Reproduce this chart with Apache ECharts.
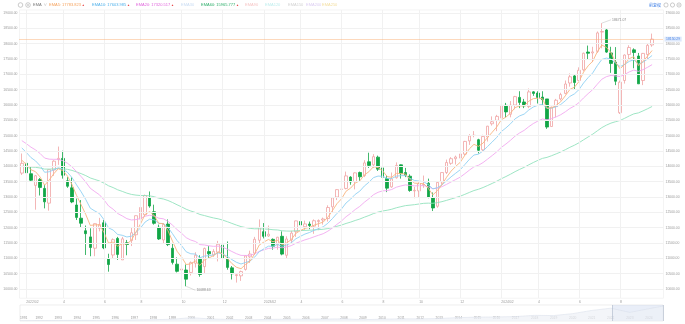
<!DOCTYPE html>
<html><head><meta charset="utf-8">
<script src="https://cdn.jsdelivr.net/npm/echarts@6/dist/echarts.min.js"></script>
<style>html,body{margin:0;padding:0;background:#fff}#c{width:685px;height:324px}</style>
</head><body><div id="c"></div>
<script>
// ---- weekly dates (Monday of each week) ----
const dates = [
'2022-01-31','2022-02-07','2022-02-14','2022-02-21','2022-02-28','2022-03-07','2022-03-14','2022-03-21','2022-03-28','2022-04-04',
'2022-04-11','2022-04-18','2022-04-25','2022-05-02','2022-05-09','2022-05-16','2022-05-23','2022-05-30','2022-06-06','2022-06-13',
'2022-06-20','2022-06-27','2022-07-04','2022-07-11','2022-07-18','2022-07-25','2022-08-01','2022-08-08','2022-08-15','2022-08-22',
'2022-08-29','2022-09-05','2022-09-12','2022-09-19','2022-09-26','2022-10-03','2022-10-10','2022-10-17','2022-10-24','2022-10-31',
'2022-11-07','2022-11-14','2022-11-21','2022-11-28','2022-12-05','2022-12-12','2022-12-19','2022-12-26','2023-01-02','2023-01-09',
'2023-01-16','2023-01-23','2023-01-30','2023-02-06','2023-02-13','2023-02-20','2023-02-27','2023-03-06','2023-03-13','2023-03-20',
'2023-03-27','2023-04-03','2023-04-10','2023-04-17','2023-04-24','2023-05-01','2023-05-08','2023-05-15','2023-05-22','2023-05-29',
'2023-06-05','2023-06-12','2023-06-19','2023-06-26','2023-07-03','2023-07-10','2023-07-17','2023-07-24','2023-07-31','2023-08-07',
'2023-08-14','2023-08-21','2023-08-28','2023-09-04','2023-09-11','2023-09-18','2023-09-25','2023-10-02','2023-10-09','2023-10-16',
'2023-10-23','2023-10-30','2023-11-06','2023-11-13','2023-11-20','2023-11-27','2023-12-04','2023-12-11','2023-12-18','2023-12-25',
'2024-01-01','2024-01-08','2024-01-15','2024-01-22','2024-01-29','2024-02-05','2024-02-12','2024-02-19','2024-02-26','2024-03-04',
'2024-03-11','2024-03-18','2024-03-25','2024-04-01','2024-04-08','2024-04-15','2024-04-22','2024-04-29','2024-05-06','2024-05-13',
'2024-05-20','2024-05-27','2024-06-03','2024-06-10','2024-06-17','2024-06-24','2024-07-01','2024-07-08','2024-07-15','2024-07-22',
'2024-07-29','2024-08-05','2024-08-12','2024-08-19','2024-08-26','2024-09-02','2024-09-09','2024-09-16','2024-09-23'];

const opens = [13780,14100,13760,13380,13570,13280,12800,13880,14220,14260,13530,13300,12740,12310,11900,11700,11330,11980,12160,10980,
11110,11650,10950,11510,11580,11770,12280,12420,12980,12520,12010,11600,12120,11330,10810,10620,10620,10540,10840,11000,
10730,11220,11110,11200,11430,10980,10690,10440,10430,10640,11050,11170,11590,11870,11730,11620,11450,11720,11100,11600,
11870,12200,12030,12120,12050,12200,12250,12300,12680,13000,13250,13280,13650,13500,13800,13700,14150,14050,14300,13950,
13600,13330,13630,14050,13800,13680,13200,13200,13400,13450,12980,12700,13500,13800,14100,14250,14270,14400,14830,15010,
14870,14540,14960,15390,15500,15580,15990,15700,16000,16250,16100,15950,16430,16390,16260,16200,15300,15950,16200,16380,
16720,16950,16800,17150,17730,17700,17750,18380,18450,17700,17400,15750,16800,17650,17800,17600,16800,17650,17960];
const closes = [14098,13791,13548,13694,13313,12843,13893,14169,14261,13711,13351,12839,12335,12145,11805,11354,12131,12100,11340,10798,
11608,11128,11636,11452,11834,12391,12658,13048,12706,12142,11631,12112,11448,10868,10576,10652,10321,10860,11102,10475,
11323,11146,11226,11461,11005,10705,10498,10466,10569,11079,11140,11622,12007,11718,11787,11395,11689,11138,11631,11824,
12222,12088,12123,12072,12227,12235,12284,12658,12975,13241,13259,13689,13492,13788,13660,14113,14032,14316,13909,13645,
13290,13590,14031,13761,13708,13212,13219,13431,13407,12984,12643,13478,13798,14125,14250,14305,14404,14814,14993,15011,
14524,14973,15311,15455,15629,15991,15776,15997,16275,16085,15973,16429,16379,16249,16175,15282,15928,16156,16341,16686,
16921,16735,17133,17689,17689,17733,18353,18398,17727,17358,16776,16745,17631,17877,17714,16691,17684,17948,18150.29];
const lows = [13720,13760,13500,12587,13050,12630,12555,13690,14050,13600,13300,12800,12250,12010,11110,11068,11070,11880,11300,10565,
11000,10950,10950,11100,11400,11600,12200,12400,12650,12100,11600,11500,11400,10800,10540,10530,10088.63,10440,10700,10400,
10500,11000,11050,10900,10950,10630,10310,10210,10265,10600,10850,11120,11500,11650,11700,11280,11280,11100,10990,11500,
11700,11950,11930,11950,11800,11920,12100,12200,12500,12900,13100,13250,13400,13250,13500,13650,13950,13950,13850,13500,
13160,13300,13600,13600,13650,13170,12960,13000,13300,12960,12543,12650,13400,13750,14050,14060,14060,14350,14700,14950,
14420,14480,14810,15330,15150,15500,15600,15600,15860,15900,15900,15900,16300,16050,16000,15223,15300,15600,16150,16350,
16600,16500,16800,17100,17500,17400,17700,17850,17700,17050,16650,15708,16700,17500,17200,16690,16650,17500,17900];
const highs = [14420,14300,13990,13720,13620,13400,13900,14200,14646,14510,13650,13640,12950,12900,12070,11980,12140,12320,12250,11150,
11650,11700,11700,11600,11990,12400,12700,13080,13181,12750,12100,12150,12270,11500,11030,11080,10800,10900,11200,11100,
11350,11400,11300,11570,11480,11550,10750,10500,10600,11100,11250,11700,12269,12150,12070,11650,11700,11880,11720,11900,
12230,12270,12230,12200,12270,12270,12330,12730,13000,13250,13400,13829,13680,13800,13830,14200,14446,14400,14350,14000,
13700,13800,14130,14060,13950,13740,13330,13480,13700,13600,13150,13500,13800,14220,14300,14350,14430,14830,15050,15150,
14900,15030,15320,15630,15680,16000,16070,16130,16300,16450,16200,16540,16450,16450,16450,16200,15950,16200,16400,16800,
17030,17000,17230,17710,17940,17900,18400,18671.07,18500,17900,17890,16800,17650,17950,17850,17700,17700,18020,18330];

const ema5 = [14200,14064,13892,13826,13655,13384,13554,13759,13926,13854,13686,13404,13048,12747,12433,12073,12092,12095,11843,11495,
11533,11398,11477,11469,11591,11858,12125,12433,12524,12397,12142,12132,11904,11559,11231,11038,10799,10819,10913,10767,
10952,11017,11087,11212,11143,10997,10831,10709,10662,10801,10914,11150,11436,11530,11616,11542,11591,11440,11504,11611,
11815,11906,11978,12009,12082,12133,12183,12341,12552,12782,12941,13190,13291,13457,13525,13721,13825,13989,13962,13856,
13667,13641,13771,13768,13748,13569,13452,13445,13432,13283,13070,13206,13403,13644,13846,13999,14134,14361,14572,14718,
14653,14760,14944,15114,15286,15521,15606,15736,15916,15972,15972,16124,16209,16222,16206,15898,15908,15991,16108,16301,
16508,16584,16767,17074,17279,17430,17738,17958,17881,17707,17397,17180,17330,17512,17579,17283,17417,17594,17779];
const ema10 = [14600,14453,14288,14180,14022,13808,13823,13886,13954,13910,13808,13632,13396,13169,12921,12636,12544,12463,12259,11993,
11923,11778,11752,11697,11722,11844,11992,12184,12279,12254,12141,12136,12011,11803,11580,11411,11213,11149,11140,11019,
11074,11087,11112,11175,11144,11064,10961,10871,10816,10864,10914,11043,11218,11309,11396,11396,11449,11392,11435,11506,
11636,11718,11792,11843,11913,11972,12029,12143,12294,12466,12610,12806,12931,13087,13191,13359,13481,13633,13683,13676,
13606,13603,13681,13696,13698,13610,13539,13519,13499,13405,13266,13305,13395,13528,13659,13776,13890,14058,14228,14370,
14398,14503,14650,14796,14947,15137,15253,15388,15549,15646,15705,15837,15936,15993,16026,15891,15898,15945,16017,16139,
16281,16364,16504,16719,16895,17047,17284,17487,17531,17500,17368,17255,17323,17424,17477,17334,17398,17498,17617];
const ema20 = [14840,14740,14627,14538,14421,14271,14235,14229,14232,14182,14103,13983,13826,13666,13489,13286,13176,13074,12909,12708,
12603,12463,12384,12295,12251,12264,12302,12373,12405,12380,12309,12290,12210,12082,11939,11816,11674,11597,11550,11448,
11436,11408,11391,11398,11361,11299,11223,11151,11096,11094,11098,11148,11230,11276,11325,11332,11366,11344,11371,11414,
11491,11548,11603,11648,11703,11754,11804,11885,11989,12108,12218,12358,12466,12592,12694,12829,12944,13075,13154,13201,
13209,13245,13320,13362,13395,13378,13363,13369,13373,13336,13270,13290,13338,13413,13493,13570,13649,13760,13877,13985,
14036,14125,14238,14354,14475,14619,14729,14850,14986,15091,15175,15294,15397,15478,15544,15519,15558,15615,15684,15779,
15888,15969,16080,16233,16372,16502,16678,16842,16926,16967,16949,16930,16997,17081,17141,17098,17154,17230,17318];
const ema60 = [14000,13993,13978,13969,13947,13911,13910,13918,13929,13922,13903,13868,13818,13763,13699,13622,13573,13525,13453,13366,
13308,13236,13184,13127,13085,13062,13049,13049,13038,13009,12964,12936,12887,12821,12747,12678,12601,12544,12497,12431,
12395,12354,12317,12289,12247,12196,12140,12085,12035,12004,11976,11964,11965,11957,11951,11933,11925,11899,11890,11888,
11899,11905,11912,11917,11927,11937,11948,11971,12004,12045,12085,12138,12182,12235,12282,12342,12397,12460,12508,12545,
12569,12602,12649,12685,12719,12735,12751,12773,12794,12800,12795,12817,12849,12891,12936,12981,13028,13087,13150,13211,
13254,13310,13376,13444,13516,13597,13668,13744,13827,13901,13969,14050,14126,14196,14261,14294,14348,14407,14470,14543,
14621,14690,14770,14866,14959,15050,15158,15264,15345,15411,15456,15498,15568,15644,15712,15744,15808,15878,15953];

// legend read-outs
const legendItems = [
  {name:'EMA5',  value:'17783.823', color:'#f5a25d'},
  {name:'EMA10', value:'17603.985', color:'#4fb0ea'},
  {name:'EMA20', value:'17320.517', color:'#e066dc'},
  {name:'EMA30', value:null,        color:'#c9dcf3'},
  {name:'EMA60', value:'15965.777', color:'#2fae6b'},
  {name:'EMA90', value:null,        color:'#f6c6c6'},
  {name:'EMA120',value:null,        color:'#bfeeee'},
  {name:'EMA150',value:null,        color:'#d2d2d2'},
  {name:'EMA200',value:null,        color:'#dccdf2'},
  {name:'EMA250',value:null,        color:'#f3dea0'}
];
const legendX = [49, 92, 136, 181, 201, 245, 265, 288, 306, 322];

// y-axis gridline values
const yTicks = [10000,10500,11000,11500,12000,12500,13000,13500,14000,14500,15000,15500,16000,16500,17000,17500,18000,18500,19000];

// overview slider (yearly level of the full history)
const sliderX = [1991,1992,1993,1994,1995,1996,1997,1998,1999,2000,2001,2002,2003,2004,2005,2006,2007,2008,2009,2010,
  2011,2012,2013,2014,2015,2016,2017,2018,2019,2020,2021,2022,2023,2024,2024.74];
const sliderY = [374,586,677,777,752,1052,1291,1570,2193,4069,2470,1950,1335,2003,2175,2205,2415,2652,1577,2269,
  2652,2605,3020,4177,4736,5007,5383,6903,6635,8973,12888,15645,10466,15011,18150];
const windowStart = 2022.08, windowEnd = 2024.74;

// ---------------------------------------------------------------
const FONT = 'Liberation Sans, Noto Sans CJK SC, sans-serif';
const cats = dates.concat(['pad1','pad2']);
const candle = dates.map((d,i)=>[opens[i], closes[i], lows[i], highs[i]]);
const tickIdx = [];
dates.forEach((d,i)=>{const m=+d.slice(5,7), day=+d.slice(8,10); if(m%2===0 && day<=7) tickIdx.push(i);});
const tickSet = new Set(tickIdx);
function xLabel(i){const d=dates[i]; if(!d) return ''; const m=d.slice(5,7); return m==='02' ? d.slice(0,4)+'/02' : String(+m);}

let maxIdx=0, minIdx=0;
highs.forEach((h,i)=>{ if(h>highs[maxIdx]) maxIdx=i; });
lows.forEach((l,i)=>{ if(l<lows[minIdx]) minIdx=i; });
const lastClose = closes[closes.length-1];

const gridColor = '#f1f1f1';
const gridLines = yTicks.map(v=>({yAxis:v, lineStyle:{color:gridColor, width:1, type:'solid'}, label:{show:false}}))
  .concat(tickIdx.map(i=>({xAxis:i, lineStyle:{color:gridColor, width:1, type:'solid'}, label:{show:false}})));

const chart = echarts.init(document.getElementById('c'), null, {renderer:'canvas'});

const lineSeries = (name, data, color) => ({
  type:'line', name, data, xAxisIndex:0, yAxisIndex:0, symbol:'none', smooth:false,
  color, lineStyle:{color, width:0.9}, z:3, silent:true
});

const headerGraphics = [];
headerGraphics.push({type:'circle', shape:{cx:20.5, cy:5, r:2.3}, style:{fill:'none', stroke:'#aaa', lineWidth:0.6}});
headerGraphics.push({type:'circle', shape:{cx:28, cy:5, r:2.3}, style:{fill:'none', stroke:'#aaa', lineWidth:0.6}});
headerGraphics.push({type:'circle', shape:{cx:28, cy:5, r:0.8}, style:{fill:'#aaa'}});
headerGraphics.push({type:'text', x:33, y:5, style:{text:'EMA', fill:'#777', font:'4px '+FONT, verticalAlign:'middle'}});
headerGraphics.push({type:'text', x:43.5, y:5, style:{text:'∨', fill:'#aaa', font:'3.5px '+FONT, verticalAlign:'middle'}});
legendItems.forEach((it,k)=>{
  const txt = it.value ? '{a|'+it.name+': '+it.value+'}{b| ▲}' : '{a|'+it.name+'}';
  headerGraphics.push({type:'text', x:legendX[k], y:5, style:{text:txt, verticalAlign:'middle',
    rich:{a:{fill:it.color, fontSize:4, fontFamily:FONT}, b:{fill:'#e8484a', fontSize:3, fontFamily:FONT}}}});
});
headerGraphics.push({type:'text', x:649, y:5, style:{text:'前复权', fill:'#3f7fe6', font:'4px Noto Sans CJK SC', verticalAlign:'middle'}});
headerGraphics.push({type:'circle', shape:{cx:666, cy:5, r:2.1}, style:{fill:'none', stroke:'#aaa', lineWidth:0.6}});
headerGraphics.push({type:'circle', shape:{cx:672.5, cy:5, r:2.1}, style:{fill:'none', stroke:'#aaa', lineWidth:0.6}});
headerGraphics.push({type:'circle', shape:{cx:679, cy:5, r:2.1}, style:{fill:'none', stroke:'#aaa', lineWidth:0.6}});
headerGraphics.push({type:'line', shape:{x1:677.8, y1:5, x2:680.2, y2:5}, style:{stroke:'#aaa', lineWidth:0.6}});

// current-price line: a dedicated line series carrying only the markLine
const priceColor = '#fbb27a';
const priceSeries = {type:'line', name:'price', data:[], xAxisIndex:0, yAxisIndex:0, symbol:'none', silent:true, z:4,
  color:priceColor, lineStyle:{color:priceColor},
  markLine:{symbol:['none','none'], silent:true, animation:false, precision:2,
    lineStyle:{color:priceColor, width:1, type:[1,1], opacity:1},
    emphasis:{disabled:true},
    label:{show:true, position:'end', distance:1, formatter:lastClose.toFixed(2), fontSize:3.4, color:'#4b86e6',
           backgroundColor:'#dde8fb', padding:[1,1.5,0.5,1.5]},
    data:[{yAxis:lastClose, lineStyle:{color:priceColor, width:1, type:[1,1]}}]}};

const option = {
  animation:false,
  textStyle:{fontFamily:FONT},
  grid:[
    {left:19.5, right:21.5, top:10, bottom:25.8, show:true, borderColor:'#ececec', borderWidth:0.6, backgroundColor:'transparent'},
    {left:20, right:22, top:305, height:16, show:true, borderColor:'#e2e2e2', borderWidth:0.6}
  ],
  xAxis:[
    {type:'category', gridIndex:0, data:cats, boundaryGap:true,
     axisLine:{show:false}, axisTick:{show:false}, splitLine:{show:false},
     axisLabel:{fontSize:3.4, color:'#999', margin:2.5, align:'left', interval:(i)=>tickSet.has(i), formatter:(v,i)=>xLabel(i)}},
    {type:'value', gridIndex:1, min:sliderX[0], max:sliderX[sliderX.length-1], interval:1,
     axisLine:{show:false}, axisTick:{show:false}, splitLine:{show:false},
     axisLabel:{inside:true, fontSize:3.3, color:'#999', margin:1.5, alignMinLabel:'left',
       formatter:(v)=> Number.isInteger(v) ? String(v) : ''}}
  ],
  yAxis:[
    {type:'value', gridIndex:0, position:'left', min:9700, max:19100, interval:50, scale:true,
     axisLine:{show:false}, axisTick:{show:false}, splitLine:{show:false},
     axisLabel:{fontSize:3.4, color:'#999', margin:2, formatter:(v)=> v%500===0 ? v.toFixed(2) : ''}},
    {type:'value', gridIndex:0, position:'right', min:9700, max:19100, interval:50, scale:true,
     axisLine:{show:false}, axisTick:{show:false}, splitLine:{show:false},
     axisLabel:{fontSize:3.4, color:'#999', margin:2, formatter:(v)=> v%500===0 ? v.toFixed(2) : ''}},
    {type:'value', gridIndex:1, min:0, max:19500, show:false}
  ],
  graphic: headerGraphics,
  series:[
    {type:'candlestick', name:'K', data:candle, xAxisIndex:0, yAxisIndex:0, barWidth:3, z:2,
     itemStyle:{color:'#ffffff', color0:'#11a646', borderColor:'#f0a3a3', borderColor0:'#11a646', borderWidth:0.8},
     markLine:{symbol:['none','none'], silent:true, animation:false, precision:2,
       data: gridLines.concat([
         [{coord:[maxIdx, highs[maxIdx]], lineStyle:{color:'#bbb', width:0.5, type:'solid'}, label:{show:false}},
          {coord:[maxIdx+2, highs[maxIdx]+110]}],
         [{coord:[minIdx, lows[minIdx]], lineStyle:{color:'#bbb', width:0.5, type:'solid'}, label:{show:false}},
          {coord:[minIdx+2, lows[minIdx]-130]}]
       ])},
     markPoint:{silent:true, animation:false, symbol:'circle', symbolSize:0.1,
       data:[
         {coord:[maxIdx+2, highs[maxIdx]+110], itemStyle:{color:'transparent'},
          label:{show:true, position:'right', distance:1, formatter:highs[maxIdx].toFixed(2), fontSize:3.4, color:'#888'}},
         {coord:[minIdx+2, lows[minIdx]-130], itemStyle:{color:'transparent'},
          label:{show:true, position:'right', distance:1, formatter:lows[minIdx].toFixed(2), fontSize:3.4, color:'#888'}}
       ]}
    },
    lineSeries('EMA60', ema60, '#93e2bd'),
    lineSeries('EMA20', ema20, '#f2a9ef'),
    lineSeries('EMA10', ema10, '#8fd0f3'),
    lineSeries('EMA5', ema5, '#f8b47f'),
    priceSeries,
    {type:'line', name:'overview', xAxisIndex:1, yAxisIndex:2, symbol:'none', silent:true,
     data: sliderX.map((x,i)=>[x, sliderY[i]]),
     lineStyle:{color:'#d6dde8', width:0.5}, areaStyle:{color:'#eef1f6'},
     markArea:{silent:true, itemStyle:{color:'rgba(120,150,210,0.16)'}, data:[[{xAxis:windowStart},{xAxis:windowEnd}]]},
     markLine:{silent:true, symbol:['none','none'], label:{show:false},
       data:[{xAxis:windowStart, lineStyle:{color:'#aab6c8', width:0.6, type:'solid'}},
             {xAxis:windowEnd, lineStyle:{color:'#aab6c8', width:0.6, type:'solid'}}]}}
  ]
};
chart.setOption(option);
</script>
</body></html>
